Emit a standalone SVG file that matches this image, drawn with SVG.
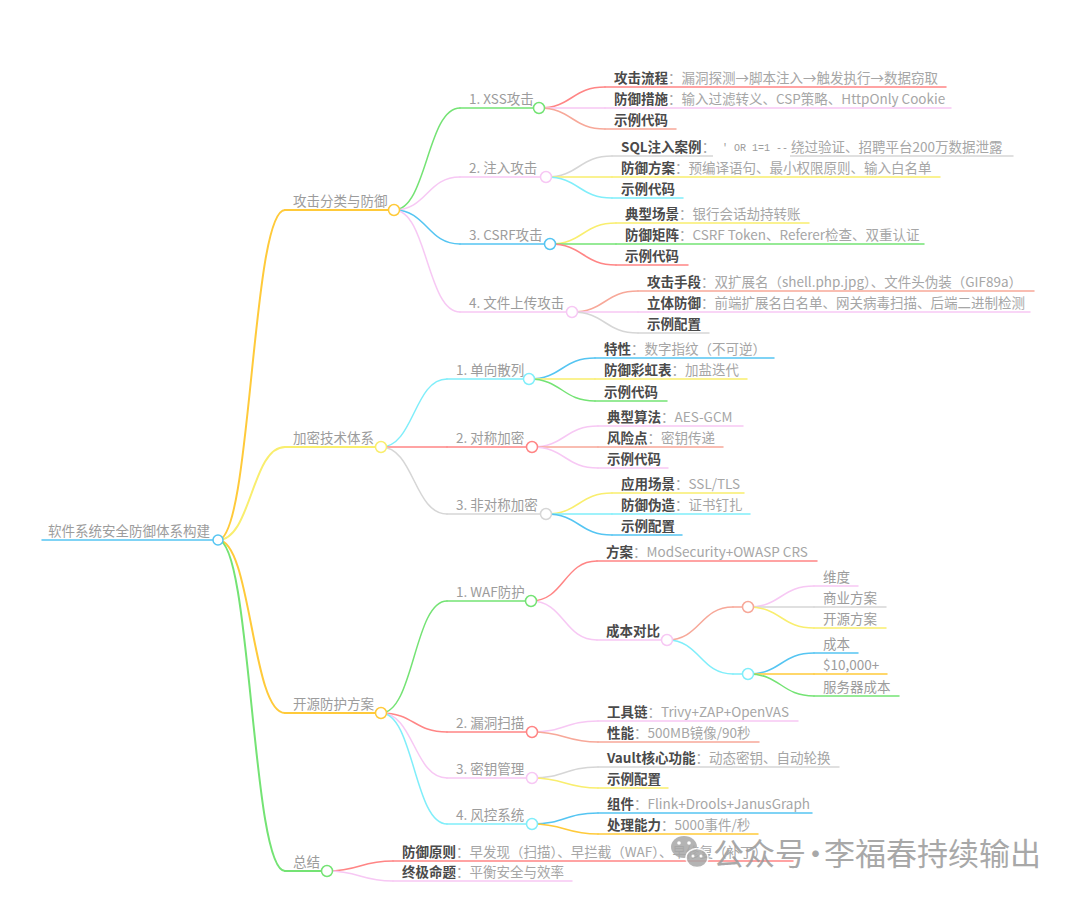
<svg xmlns="http://www.w3.org/2000/svg" width="1080" height="897" viewBox="0 0 1080 897">
<style>
.t{font-family:"Noto Sans CJK SC","Noto Sans",sans-serif;font-size:13.5px;fill:#9c9c9c}
.k{font-weight:bold;fill:#4a4a4a}
.v{fill:#a6a6a6}
.code{font-family:"Liberation Mono",monospace;font-size:10px;fill:#9c9c9c}
.ln{fill:none;stroke-width:1.5;stroke-linecap:round}
.l1{stroke-width:2}
.dot{fill:#fff;stroke-width:1.5}
.green{stroke:#74e374}.pink{stroke:#f7c8f4}.blue{stroke:#55c5f2}.cyan{stroke:#80eefa}
.red{stroke:#ff8585}.salmon{stroke:#f7a899}.yellow{stroke:#f9ee6e}.gold{stroke:#ffca3a}.gray{stroke:#d6d6d6}
.wm{font-family:"Noto Sans CJK SC","Noto Sans",sans-serif;font-size:31px;fill:#9a9a9a}
</style>
<rect width="1080" height="897" fill="#fff"/>
<g id="connectors">
<path class="ln l1 gold" d="M218 540C251.5 540 251.5 210 285 210"/>
<path class="ln l1 yellow" d="M218 540C251.5 540 251.5 447 285 447"/>
<path class="ln l1 gold" d="M218 540C251.5 540 251.5 713 285 713"/>
<path class="ln l1 green" d="M218 540C251.5 540 251.5 871 285 871"/>
<path class="ln green" d="M394 210C427 210 427 108 460 108"/>
<path class="ln pink" d="M394 210C427 210 427 177 460 177"/>
<path class="ln blue" d="M394 210C427 210 427 244 460 244"/>
<path class="ln pink" d="M394 210C427 210 427 312 460 312"/>
<path class="ln red" d="M539 108C572 108 572 87 605 87"/>
<path class="ln pink" d="M539 108H605"/>
<path class="ln salmon" d="M539 108C572 108 572 129 605 129"/>
<path class="ln gray" d="M546 177C579 177 579 156 612 156"/>
<path class="ln yellow" d="M546 177H612"/>
<path class="ln cyan" d="M546 177C579 177 579 198 612 198"/>
<path class="ln yellow" d="M550 244C583 244 583 223 616 223"/>
<path class="ln green" d="M550 244H616"/>
<path class="ln red" d="M550 244C583 244 583 265 616 265"/>
<path class="ln salmon" d="M572 312C605 312 605 291 638 291"/>
<path class="ln pink" d="M572 312H638"/>
<path class="ln gray" d="M572 312C605 312 605 333 638 333"/>
<path class="ln cyan" d="M381 447C414 447 414 379 447 379"/>
<path class="ln red" d="M381 447H447"/>
<path class="ln gray" d="M381 447C414 447 414 514 447 514"/>
<path class="ln blue" d="M529 379C562 379 562 358 595 358"/>
<path class="ln yellow" d="M529 379H595"/>
<path class="ln green" d="M529 379C562 379 562 401 595 401"/>
<path class="ln pink" d="M532 447C565 447 565 426 598 426"/>
<path class="ln salmon" d="M532 447H598"/>
<path class="ln pink" d="M532 447C565 447 565 468 598 468"/>
<path class="ln yellow" d="M546 514C579 514 579 493 612 493"/>
<path class="ln cyan" d="M546 514H612"/>
<path class="ln blue" d="M546 514C579 514 579 535 612 535"/>
<path class="ln green" d="M381 713C414 713 414 601 447 601"/>
<path class="ln red" d="M381 713C414 713 414 732 447 732"/>
<path class="ln pink" d="M381 713C414 713 414 778 447 778"/>
<path class="ln cyan" d="M381 713C414 713 414 824 447 824"/>
<path class="ln red" d="M531 601C564 601 564 561 597 561"/>
<path class="ln pink" d="M531 601C564 601 564 640 597 640"/>
<path class="ln salmon" d="M667 640C700 640 700 607 733 607"/>
<path class="ln cyan" d="M667 640C700 640 700 674 733 674"/>
<path class="ln pink" d="M748 607C781 607 781 586 814 586"/>
<path class="ln gray" d="M748 607H814"/>
<path class="ln yellow" d="M748 607C781 607 781 628 814 628"/>
<path class="ln blue" d="M748 674C781 674 781 653 814 653"/>
<path class="ln gold" d="M748 674H814"/>
<path class="ln green" d="M748 674C781 674 781 696 814 696"/>
<path class="ln pink" d="M532 732C565 732 565 721 598 721"/>
<path class="ln salmon" d="M532 732C565 732 565 742 598 742"/>
<path class="ln gray" d="M532 778C565 778 565 767 598 767"/>
<path class="ln yellow" d="M532 778C565 778 565 788 598 788"/>
<path class="ln blue" d="M532 824C565 824 565 813 598 813"/>
<path class="ln gold" d="M532 824C565 824 565 834 598 834"/>
<path class="ln red" d="M327 871C360 871 360 861 393 861"/>
<path class="ln pink" d="M327 871C360 871 360 881 393 881"/>
</g>

<g id="root"><path class="ln blue" stroke-width="3" d="M42 540H218"/><circle class="dot blue" cx="218" cy="540" r="5"/><text class="t" x="48" y="536">软件系统安全防御体系构建</text></g>

<g id="n-attack"><path class="ln l1 gold" d="M285 210H394"/><circle class="dot gold" cx="394" cy="210" r="5.5"/><text class="t" x="293" y="206">攻击分类与防御</text></g>
<g id="n-crypto"><path class="ln l1 yellow" d="M285 447H381"/><circle class="dot yellow" cx="381" cy="447" r="5.5"/><text class="t" x="293" y="443">加密技术体系</text></g>
<g id="n-open"><path class="ln l1 gold" d="M285 713H381"/><circle class="dot gold" cx="381" cy="713" r="5.5"/><text class="t" x="293" y="709">开源防护方案</text></g>
<g id="n-summary"><path class="ln l1 green" d="M285 871H327"/><circle class="dot green" cx="327" cy="871" r="5.5"/><text class="t" x="293" y="867">总结</text></g>

<g id="n-xss"><path class="ln green" d="M460 108H539"/><circle class="dot green" cx="539" cy="108" r="5.5"/><text class="t" x="469" y="104">1. XSS攻击</text></g>
<g id="n-xss-1"><path class="ln red" d="M605 87H946"/><text class="t" x="614" y="83"><tspan class="k">攻击流程</tspan><tspan class="v">：漏洞探测→脚本注入→触发执行→数据窃取</tspan></text></g>
<g id="n-xss-2"><path class="ln pink" d="M605 108H951"/><text class="t" x="614" y="104"><tspan class="k">防御措施</tspan><tspan class="v">：输入过滤转义、CSP策略、HttpOnly Cookie</tspan></text></g>
<g id="n-xss-3"><path class="ln salmon" d="M605 129H676"/><text class="t" x="614" y="125"><tspan class="k">示例代码</tspan></text></g>

<g id="n-inj"><path class="ln pink" d="M460 177H546"/><circle class="dot pink" cx="546" cy="177" r="5.5"/><text class="t" x="469" y="173">2. 注入攻击</text></g>
<g id="n-inj-1"><path class="ln gray" d="M612 156H1013"/><rect x="713" y="142" width="77" height="17" fill="#fff"/><text class="t" x="621" y="152"><tspan class="k">SQL注入案例</tspan><tspan class="v">：</tspan></text><text class="code" x="722" y="151">' OR 1=1 --</text><text class="t v" x="791" y="152">绕过验证、招聘平台200万数据泄露</text></g>
<g id="n-inj-2"><path class="ln yellow" d="M612 177H940"/><text class="t" x="621" y="173"><tspan class="k">防御方案</tspan><tspan class="v">：预编译语句、最小权限原则、输入白名单</tspan></text></g>
<g id="n-inj-3"><path class="ln cyan" d="M612 198H683"/><text class="t" x="621" y="194"><tspan class="k">示例代码</tspan></text></g>

<g id="n-csrf"><path class="ln blue" d="M460 244H550"/><circle class="dot blue" cx="550" cy="244" r="5.5"/><text class="t" x="469" y="240">3. CSRF攻击</text></g>
<g id="n-csrf-1"><path class="ln yellow" d="M616 223H809"/><text class="t" x="625" y="219"><tspan class="k">典型场景</tspan><tspan class="v">：银行会话劫持转账</tspan></text></g>
<g id="n-csrf-2"><path class="ln green" d="M616 244H924"/><text class="t" x="625" y="240"><tspan class="k">防御矩阵</tspan><tspan class="v">：CSRF Token、Referer检查、双重认证</tspan></text></g>
<g id="n-csrf-3"><path class="ln red" d="M616 265H688"/><text class="t" x="625" y="261"><tspan class="k">示例代码</tspan></text></g>

<g id="n-upload"><path class="ln pink" d="M460 312H572"/><circle class="dot pink" cx="572" cy="312" r="5.5"/><text class="t" x="469" y="308">4. 文件上传攻击</text></g>
<g id="n-upload-1"><path class="ln salmon" d="M638 291H1034"/><text class="t" x="647" y="287"><tspan class="k">攻击手段</tspan><tspan class="v">：双扩展名（shell.php.jpg）、文件头伪装（GIF89a）</tspan></text></g>
<g id="n-upload-2"><path class="ln pink" d="M638 312H1030"/><text class="t" x="647" y="308"><tspan class="k">立体防御</tspan><tspan class="v">：前端扩展名白名单、网关病毒扫描、后端二进制检测</tspan></text></g>
<g id="n-upload-3"><path class="ln gray" d="M638 333H709"/><text class="t" x="647" y="329"><tspan class="k">示例配置</tspan></text></g>

<g id="n-hash"><path class="ln cyan" d="M447 379H529"/><circle class="dot cyan" cx="529" cy="379" r="5.5"/><text class="t" x="456" y="375">1. 单向散列</text></g>
<g id="n-hash-1"><path class="ln blue" d="M595 358H774"/><text class="t" x="604" y="354"><tspan class="k">特性</tspan><tspan class="v">：数字指纹（不可逆）</tspan></text></g>
<g id="n-hash-2"><path class="ln yellow" d="M595 379H747"/><text class="t" x="604" y="375"><tspan class="k">防御彩虹表</tspan><tspan class="v">：加盐迭代</tspan></text></g>
<g id="n-hash-3"><path class="ln green" d="M595 401H667"/><text class="t" x="604" y="397"><tspan class="k">示例代码</tspan></text></g>

<g id="n-sym"><path class="ln red" d="M447 447H532"/><circle class="dot red" cx="532" cy="447" r="5.5"/><text class="t" x="456" y="443">2. 对称加密</text></g>
<g id="n-sym-1"><path class="ln pink" d="M598 426H743"/><text class="t" x="607" y="422"><tspan class="k">典型算法</tspan><tspan class="v">：AES-GCM</tspan></text></g>
<g id="n-sym-2"><path class="ln salmon" d="M598 447H723"/><text class="t" x="607" y="443"><tspan class="k">风险点</tspan><tspan class="v">：密钥传递</tspan></text></g>
<g id="n-sym-3"><path class="ln pink" d="M598 468H668"/><text class="t" x="607" y="464"><tspan class="k">示例代码</tspan></text></g>

<g id="n-asym"><path class="ln gray" d="M447 514H546"/><circle class="dot gray" cx="546" cy="514" r="5.5"/><text class="t" x="456" y="510">3. 非对称加密</text></g>
<g id="n-asym-1"><path class="ln yellow" d="M612 493H744"/><text class="t" x="621" y="489"><tspan class="k">应用场景</tspan><tspan class="v">：SSL/TLS</tspan></text></g>
<g id="n-asym-2"><path class="ln cyan" d="M612 514H750"/><text class="t" x="621" y="510"><tspan class="k">防御伪造</tspan><tspan class="v">：证书钉扎</tspan></text></g>
<g id="n-asym-3"><path class="ln blue" d="M612 535H682"/><text class="t" x="621" y="531"><tspan class="k">示例配置</tspan></text></g>

<g id="n-waf"><path class="ln green" d="M447 601H531"/><circle class="dot green" cx="531" cy="601" r="5.5"/><text class="t" x="456" y="597">1. WAF防护</text></g>
<g id="n-waf-1"><path class="ln red" d="M597 561H817"/><text class="t" x="606" y="557"><tspan class="k">方案</tspan><tspan class="v">：ModSecurity+OWASP CRS</tspan></text></g>
<g id="n-cost"><path class="ln pink" d="M597 640H667"/><circle class="dot pink" cx="667" cy="640" r="5.5"/><text class="t" x="606" y="636"><tspan class="k">成本对比</tspan></text></g>
<g id="n-cost-a"><path class="ln salmon" d="M733 607H748"/><circle class="dot salmon" cx="748" cy="607" r="5.5"/></g>
<g id="n-cost-a1"><path class="ln pink" d="M814 586H858"/><text class="t" x="823" y="582">维度</text></g>
<g id="n-cost-a2"><path class="ln gray" d="M814 607H886"/><text class="t" x="823" y="603">商业方案</text></g>
<g id="n-cost-a3"><path class="ln yellow" d="M814 628H886"/><text class="t" x="823" y="624">开源方案</text></g>
<g id="n-cost-b"><path class="ln cyan" d="M733 674H748"/><circle class="dot cyan" cx="748" cy="674" r="5.5"/></g>
<g id="n-cost-b1"><path class="ln blue" d="M814 653H858"/><text class="t" x="823" y="649">成本</text></g>
<g id="n-cost-b2"><path class="ln gold" d="M814 674H887"/><text class="t" x="823" y="670">$10,000+</text></g>
<g id="n-cost-b3"><path class="ln green" d="M814 696H899"/><text class="t" x="823" y="692">服务器成本</text></g>

<g id="n-scan"><path class="ln red" d="M447 732H532"/><circle class="dot red" cx="532" cy="732" r="5.5"/><text class="t" x="456" y="728">2. 漏洞扫描</text></g>
<g id="n-scan-1"><path class="ln pink" d="M598 721H798"/><text class="t" x="607" y="717"><tspan class="k">工具链</tspan><tspan class="v">：Trivy+ZAP+OpenVAS</tspan></text></g>
<g id="n-scan-2"><path class="ln salmon" d="M598 742H759"/><text class="t" x="607" y="738"><tspan class="k">性能</tspan><tspan class="v">：500MB镜像/90秒</tspan></text></g>

<g id="n-key"><path class="ln pink" d="M447 778H532"/><circle class="dot pink" cx="532" cy="778" r="5.5"/><text class="t" x="456" y="774">3. 密钥管理</text></g>
<g id="n-key-1"><path class="ln gray" d="M598 767H839"/><text class="t" x="607" y="763"><tspan class="k">Vault核心功能</tspan><tspan class="v">：动态密钥、自动轮换</tspan></text></g>
<g id="n-key-2"><path class="ln yellow" d="M598 788H668"/><text class="t" x="607" y="784"><tspan class="k">示例配置</tspan></text></g>

<g id="n-risk"><path class="ln cyan" d="M447 824H532"/><circle class="dot cyan" cx="532" cy="824" r="5.5"/><text class="t" x="456" y="820">4. 风控系统</text></g>
<g id="n-risk-1"><path class="ln blue" d="M598 813H812"/><text class="t" x="607" y="809"><tspan class="k">组件</tspan><tspan class="v">：Flink+Drools+JanusGraph</tspan></text></g>
<g id="n-risk-2"><path class="ln gold" d="M598 834H758"/><text class="t" x="607" y="830"><tspan class="k">处理能力</tspan><tspan class="v">：5000事件/秒</tspan></text></g>

<g id="n-sum-1"><path class="ln red" d="M393 861H793"/><text class="t" x="402" y="857"><tspan class="k">防御原则</tspan><tspan class="v">：早发现（扫描）、早拦截（WAF）、早修复（补丁）</tspan></text></g>
<g id="n-sum-2"><path class="ln pink" d="M393 881H572"/><text class="t" x="402" y="877"><tspan class="k">终极命题</tspan><tspan class="v">：平衡安全与效率</tspan></text></g>

<g id="watermark" opacity="0.85">
<ellipse cx="684" cy="847" rx="13" ry="11" fill="#a8a8a8"/>
<ellipse cx="697" cy="858" rx="11" ry="9.5" fill="#a8a8a8" stroke="#fff" stroke-width="1.5"/>
<circle cx="679" cy="843" r="1.8" fill="#fff"/><circle cx="689" cy="843" r="1.8" fill="#fff"/>
<circle cx="693" cy="856" r="1.5" fill="#fff"/><circle cx="701" cy="856" r="1.5" fill="#fff"/>
<text class="wm" x="713" y="865">公众号<tspan dx="-6">·</tspan><tspan dx="-7">李福春持续输出</tspan></text>
</g>
</svg>
